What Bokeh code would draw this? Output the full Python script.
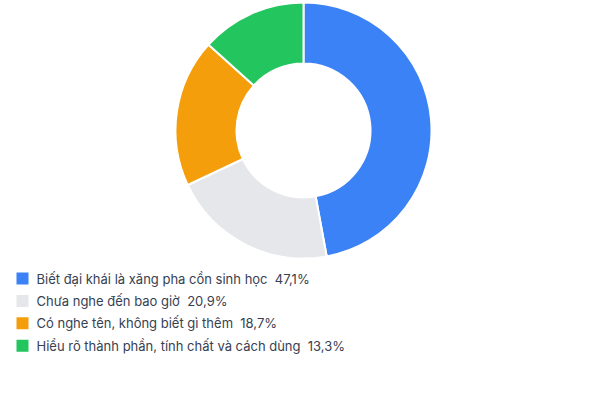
import math
from bokeh.plotting import figure
from bokeh.models import Range1d, ColumnDataSource
from bokeh.core.properties import value
from bokeh.embed import file_html
from bokeh.resources import INLINE

# ---- data ----
labels = [
    "Biết đại khái là xăng pha cồn sinh học",
    "Chưa nghe đến bao giờ",
    "Có nghe tên, không biết gì thêm",
    "Hiểu rõ thành phần, tính chất và cách dùng",
]
values = [47.1, 20.9, 18.7, 13.3]
colors = ["#3b82f6", "#e5e7eb", "#f59e0b", "#22c55e"]

# ---- layout ----
W, H = 590, 398
CX, CY = 303, H - 130
R_OUT, R_IN = 128, 67
LEG_X_SQ, LEG_X_TXT = 22, 36
LEG_Y0, LEG_DY = H - 278, 22.4

total = sum(values)
starts, ends = [], []
cum = 0.0
for v in values:
    starts.append(math.pi / 2 - 2 * math.pi * cum / total)
    cum += v
    ends.append(math.pi / 2 - 2 * math.pi * cum / total)

p = figure(width=W, height=H, output_backend="svg", toolbar_location=None,
           x_range=Range1d(0, W), y_range=Range1d(0, H),
           min_border=0, min_border_left=0, min_border_right=0,
           min_border_top=0, min_border_bottom=0)
p.axis.visible = False
p.grid.visible = False
p.outline_line_color = None
p.background_fill_color = "white"
p.border_fill_color = "white"

src = ColumnDataSource(dict(start=starts, end=ends, color=colors,
                            x=[CX] * len(values), y=[CY] * len(values)))
p.annular_wedge(x="x", y="y", inner_radius=R_IN, outer_radius=R_OUT,
                inner_radius_units="screen", outer_radius_units="screen",
                start_angle="start", end_angle="end", direction="clock",
                fill_color="color", line_color="white", line_width=2,
                source=src)

ys = [LEG_Y0 - i * LEG_DY for i in range(len(values))]
texts = [f"{l}\u00a0\u00a0{v:.1f}".replace(".", ",") + "%" for l, v in zip(labels, values)]
leg = ColumnDataSource(dict(x=[LEG_X_SQ] * len(values), tx=[LEG_X_TXT] * len(values),
                            y=ys, color=colors, text=texts))
p.rect(x="x", y="y", width=12, height=12, width_units="screen", height_units="screen",
       fill_color="color", line_color=None, source=leg)
p.text(x="tx", y="y", text="text", text_font=value("Inter"), text_font_size="13px",
       text_color="#374151", text_baseline="middle", text_align="left", source=leg)

open("out.html", "w").write(file_html(p, INLINE))
